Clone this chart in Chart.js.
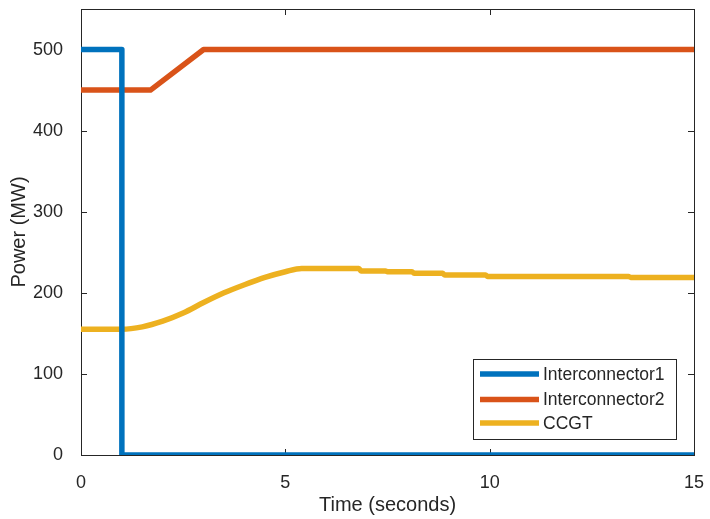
<!DOCTYPE html>
<html>
<head>
<meta charset="utf-8">
<script src="https://cdn.jsdelivr.net/npm/chart.js@4/dist/chart.umd.min.js"></script>
<style>
  body { margin: 0; background: #fff; }
  #wrap { width: 710px; height: 519px; }
</style>
</head>
<body>
<div id="wrap"><canvas id="grafico"></canvas></div>
<script>
// datos
const ic1Tiempo = [0, 1, 1, 15];
const ic1Potencia = [500, 500, 0, 0];

const ic2Tiempo = [0, 1.7, 3, 15];
const ic2Potencia = [450, 450, 500, 500];

const ccgtTiempo = [0, 1, 1.5, 2, 2.5, 3, 3.5, 4, 4.5, 5, 5.4, 6.8, 6.85, 7.45, 7.5, 8.1, 8.15, 8.85, 8.9, 9.9, 9.95, 13.4, 13.45, 15];
const ccgtPotencia = [155, 155, 158, 165, 175, 188, 200, 210, 219, 226, 230, 230, 227, 227, 226, 226, 224, 224, 222, 222, 220, 220, 219, 219];

const ticksX = [0, 5, 10, 15];
const ticksY = [0, 100, 200, 300, 400, 500];

const nombres = ["Interconnector1", "Interconnector2", "CCGT"];
const colores = ["#0072BD", "#D95319", "#EDB120"];

const fuente = "'Liberation Sans', Arial, Helvetica, sans-serif";
const gris = "#262626";

function aPuntos(tiempo, potencia) {
  return tiempo.map((t, i) => ({ x: t, y: potencia[i] }));
}

function serie(i, tiempo, potencia, suave) {
  return {
    label: nombres[i],
    data: aPuntos(tiempo, potencia),
    borderColor: colores[i],
    backgroundColor: colores[i],
    borderWidth: 5.5,
    borderJoinStyle: "round",
    pointRadius: 0,
    cubicInterpolationMode: suave ? "monotone" : "default",
    tension: 0,
    fill: false,
  };
}

// marco, ticks hacia adentro y leyenda estilo matlab
const marcoMatlab = {
  id: "marcoMatlab",
  beforeDatasetsDraw(chart) {
    const ctx = chart.ctx;
    const a = chart.chartArea;
    const sx = chart.scales.x;
    const sy = chart.scales.y;
    ctx.save();
    ctx.strokeStyle = gris;
    ctx.lineWidth = 1;
    ctx.strokeRect(a.left + 0.5, a.top + 0.5, a.right - a.left, a.bottom - a.top);
    ctx.beginPath();
    ticksX.forEach((v) => {
      const px = Math.round(sx.getPixelForValue(v)) + 0.5;
      ctx.moveTo(px, a.bottom);
      ctx.lineTo(px, a.bottom - 6);
      ctx.moveTo(px, a.top);
      ctx.lineTo(px, a.top + 6);
    });
    ticksY.forEach((v) => {
      const py = Math.round(sy.getPixelForValue(v)) + 0.5;
      ctx.moveTo(a.left, py);
      ctx.lineTo(a.left + 6, py);
      ctx.moveTo(a.right, py);
      ctx.lineTo(a.right - 6, py);
    });
    ctx.stroke();
    ctx.restore();
  },
  afterDraw(chart) {
    const ctx = chart.ctx;
    const caja = { x: 473.5, y: 359.5, w: 203, h: 80 };
    const filas = [374, 399.5, 423];
    ctx.save();
    ctx.fillStyle = "#fff";
    ctx.fillRect(caja.x, caja.y, caja.w, caja.h);
    ctx.strokeStyle = gris;
    ctx.lineWidth = 1;
    ctx.strokeRect(caja.x, caja.y, caja.w, caja.h);
    ctx.font = "17.5px " + fuente;
    ctx.textBaseline = "middle";
    chart.data.datasets.forEach((ds, i) => {
      ctx.strokeStyle = ds.borderColor;
      ctx.lineWidth = 5.5;
      ctx.beginPath();
      ctx.moveTo(480, filas[i]);
      ctx.lineTo(539, filas[i]);
      ctx.stroke();
      ctx.fillStyle = gris;
      ctx.fillText(ds.label, 543, filas[i] + 1);
    });
    ctx.restore();
  },
};

const config = {
  type: "line",
  data: {
    datasets: [
      serie(0, ic1Tiempo, ic1Potencia, false),
      serie(1, ic2Tiempo, ic2Potencia, false),
      serie(2, ccgtTiempo, ccgtPotencia, true),
    ],
  },
  options: {
    responsive: false,
    animation: false,
    layout: { padding: { top: 9, right: 16, left: 0, bottom: 0 } },
    plugins: { legend: { display: false }, tooltip: { enabled: false } },
    scales: {
      x: {
        type: "linear",
        min: 0,
        max: 15,
        afterFit: (scale) => {
          scale.height = 64;
          scale.paddingLeft = 0;
          scale.paddingRight = 0;
        },
        afterBuildTicks: (scale) => { scale.ticks = ticksX.map((v) => ({ value: v })); },
        grid: { display: false },
        border: { display: false },
        ticks: { color: gris, font: { family: fuente, size: 18 }, padding: 9, maxRotation: 0 },
        title: { display: true, text: "Time (seconds)", color: gris, font: { family: fuente, size: 20 }, padding: { top: 4, bottom: 2 } },
      },
      y: {
        type: "linear",
        min: 0,
        max: 550,
        afterFit: (scale) => {
          scale.width = 81;
          scale.paddingTop = 0;
          scale.paddingBottom = 0;
        },
        afterBuildTicks: (scale) => { scale.ticks = ticksY.map((v) => ({ value: v })); },
        grid: { display: false },
        border: { display: false },
        ticks: { color: gris, font: { family: fuente, size: 18 }, padding: 10 },
        title: { display: true, text: "Power (MW)", color: gris, font: { family: fuente, size: 20 }, padding: { top: 7, bottom: 4 } },
      },
    },
  },
  plugins: [marcoMatlab],
};

const canvas = document.getElementById("grafico");
canvas.width = 710;
canvas.height = 519;
new Chart(canvas, config);
</script>
</body>
</html>
